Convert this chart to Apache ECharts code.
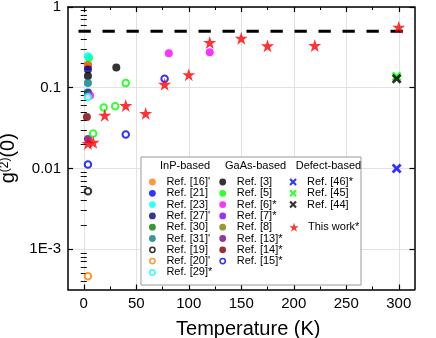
<!DOCTYPE html>
<html><head><meta charset="utf-8">
<script src="https://cdn.jsdelivr.net/npm/echarts@6/dist/echarts.min.js"></script>
<style>html,body{margin:0;padding:0;background:#fff}#c{width:436px;height:338px}</style>
</head><body><div id="c"></div>
<script>
// ---- ticks ----
const xTickValues = [0, 50, 100, 150, 200, 250, 300];
const xMinorTickValues = [25, 75, 125, 175, 225, 275];
const yTickValues = [0.001, 0.01, 0.1, 1];
const yTickLabels = ['1E-3', '0.01', '0.1', '1'];
const yMinorTickValues = [0.0004, 0.0005, 0.0006, 0.0007, 0.0008, 0.0009,
  0.002, 0.003, 0.004, 0.005, 0.006, 0.007, 0.008, 0.009,
  0.02, 0.03, 0.04, 0.05, 0.06, 0.07, 0.08, 0.09,
  0.2, 0.3, 0.4, 0.5, 0.6, 0.7, 0.8, 0.9];

// ---- data: [temperature (K), g2(0)] ----
// InP-based
const ref16 = [[4, 0.19]];
const ref21 = [[4, 0.087]];
const ref23 = [[4, 0.245]];
const ref27 = [[4, 0.168]];
const ref30 = [[4, 0.084]];
const ref31 = [[4, 0.114]];
const ref19 = [[4, 0.0052]];
const ref20 = [[4, 0.00046]];
const ref29 = [[4, 0.077]];
// GaAs-based
const ref3 = [[4, 0.14], [31, 0.178]];
const ref5 = [[5, 0.235]];
const ref5open = [[9, 0.027], [19, 0.057], [30, 0.059], [40, 0.114]];
const ref6 = [[6, 0.08], [81, 0.268], [120, 0.276]];
const ref7 = [[4, 0.186]];
const ref8 = [[4, 0.192]];
const ref13 = [[4, 0.0232]];
const ref14 = [[3, 0.0435]];
const ref15 = [[4, 0.0112], [40, 0.0263], [77, 0.129]];
// Defect-based
const ref46 = [[298, 0.01]];
const ref45 = [[298, 0.138]];
const ref44 = [[298, 0.129]];
// This work
const thisWork = [[4, 0.0204], [9, 0.0211], [20, 0.0455], [40, 0.06], [59, 0.048], [77, 0.11],
                  [100, 0.145], [120, 0.363], [150, 0.41], [175, 0.33], [220, 0.333], [300, 0.56]];
// dashed reference line
const dashX = [-5, 315];
const dashY = [0.5, 0.5];

const FONT = '"Liberation Sans", Arial, sans-serif';
const STAR = 'path://M10,0 L12.245,6.91 L19.511,6.91 L13.633,11.18 L15.878,18.09 L10,13.82 L4.122,18.09 L6.367,11.18 L0.489,6.91 L7.755,6.91 Z';
const XMARK = 'path://M0,2 L2,0 L5,3 L8,0 L10,2 L7,5 L10,8 L8,10 L5,7 L2,10 L0,8 L3,5 Z';
const RING = 'path://M0,5 A5,5 0 1,0 10,5 A5,5 0 1,0 0,5 Z M2.3,5 A2.7,2.7 0 1,1 7.7,5 A2.7,2.7 0 1,1 2.3,5 Z';

function sc(name, data, color, kind) {
  const s = { type: 'scatter', name: name, data: data, silent: true, animation: false };
  if (kind === 'fill') { s.symbol = 'circle'; s.symbolSize = 8; s.itemStyle = { color: color }; }
  else if (kind === 'open') { s.symbol = 'emptyCircle'; s.symbolSize = 6.5; s.itemStyle = { color: color, borderColor: color, borderWidth: 1.8 }; s.z = 3; }
  else if (kind === 'x') { s.symbol = XMARK; s.symbolSize = 10; s.itemStyle = { color: color }; s.z = 3; }
  else if (kind === 'star') { s.symbol = STAR; s.symbolSize = 13; s.itemStyle = { color: color }; s.z = 4; }
  return s;
}

const series = [
  {
    type: 'line', data: dashX.map((x, i) => [x, dashY[i]]), symbol: 'none', silent: true, animation: false,
    lineStyle: { color: '#000', width: 3, type: [12.3, 11.7], cap: 'butt' }, z: 1
  },
  sc("Ref. [8]", ref8, '#808000', 'fill'),
  sc("Ref. [7]*", ref7, '#8000ff', 'fill'),
  sc("Ref. [16]'", ref16, '#ff8000', 'fill'),
  sc("Ref. [5]", ref5, '#00ff00', 'fill'),
  sc("Ref. [23]", ref23, '#00ffff', 'fill'),
  sc("Ref. [27]'", ref27, '#000080', 'fill'),
  sc("Ref. [3]", ref3, '#000000', 'fill'),
  sc("Ref. [31]'", ref31, '#008080', 'fill'),
  sc("Ref. [21]", ref21, '#0000ff', 'fill'),
  sc("Ref. [30]", ref30, '#008000', 'fill'),
  sc("Ref. [6]*", ref6, '#ff00ff', 'fill'),
  sc("Ref. [14]*", ref14, '#800000', 'fill'),
  sc("Ref. [13]*", ref13, '#800080', 'fill'),
  sc("Ref. [29]*", ref29, '#00ffff', 'open'),
  sc("Ref. [19]", ref19, '#000000', 'open'),
  sc("Ref. [20]'", ref20, '#ff8000', 'open'),
  sc("Ref. [15]*", ref15, '#0000ff', 'open'),
  sc("Ref. [5] open", ref5open, '#00ff00', 'open'),
  sc("Ref. [46]*", ref46, '#0000ff', 'x'),
  sc("Ref. [45]", ref45, '#00ff00', 'x'),
  sc("Ref. [44]", ref44, '#000000', 'x'),
  sc("This work*", thisWork, '#ff0000', 'star')
];

const inpNames = ["Ref. [16]'", "Ref. [21]", "Ref. [23]", "Ref. [27]'", "Ref. [30]", "Ref. [31]'", "Ref. [19]", "Ref. [20]'", "Ref. [29]*"];
const gaasNames = ["Ref. [3]", "Ref. [5]", "Ref. [6]*", "Ref. [7]*", "Ref. [8]", "Ref. [13]*", "Ref. [14]*", "Ref. [15]*"];
const defectNames = ["Ref. [46]*", "Ref. [45]", "Ref. [44]"];
const workNames = ["This work*"];
const openNames = ["Ref. [19]", "Ref. [20]'", "Ref. [29]*", "Ref. [15]*"];

function lg(names, left, top, iconH) {
  return {
    data: names.map(n => openNames.indexOf(n) >= 0 ? { name: n, icon: RING, itemStyle: { borderWidth: 0 } } : n),
    orient: 'vertical', left: left, top: top, padding: 0, itemGap: 0.3,
    itemWidth: 18, itemHeight: iconH, selectedMode: false, z: 6,
    textStyle: { fontSize: 11, lineHeight: 11, fontFamily: FONT, color: '#000' }
  };
}

function yFmt(v) {
  for (let i = 0; i < yTickValues.length; i++) {
    if (Math.abs(v - yTickValues[i]) / yTickValues[i] < 1e-6) return yTickLabels[i];
  }
  return '';
}

const LINE = { show: true, onZero: false, lineStyle: { color: '#000', width: 1.5 } };
const NOLINE = { show: false };
function majorTick(vals) { return { show: true, inside: true, length: 5, customValues: vals, lineStyle: { color: '#000', width: 1.2 } }; }
function minorTick(vals) { return { show: true, inside: true, length: 3, customValues: vals, lineStyle: { color: '#000', width: 1 } }; }
const XMIN = -15, XMAX = 315, YMIN = Math.pow(10, -3.5), YMAX = 1;

const option = {
  animation: false,
  backgroundColor: '#fff',
  grid: { left: 68, right: 21.5, top: 7, bottom: 48.5, containLabel: false, outerBoundsMode: 'none' },
  xAxis: [
    {
      type: 'value', min: XMIN, max: XMAX, position: 'bottom', axisLine: LINE, axisTick: majorTick(xTickValues),
      axisLabel: { customValues: xTickValues, fontSize: 15, fontFamily: FONT, color: '#000', margin: 7 },
      splitLine: { show: true, lineStyle: { color: '#e2e2e2', width: 1 } },
      name: 'Temperature (K)', nameLocation: 'middle', nameGap: 30,
      nameTextStyle: { fontSize: 20, fontFamily: FONT, color: '#000', padding: [0, 0, 0, 14] }
    },
    { type: 'value', min: XMIN, max: XMAX, position: 'top', axisLine: LINE, axisTick: majorTick(xTickValues), axisLabel: { show: false }, splitLine: { show: false } },
    { type: 'value', min: XMIN, max: XMAX, position: 'bottom', axisLine: NOLINE, axisTick: minorTick(xMinorTickValues), axisLabel: { show: false }, splitLine: { show: false } },
    { type: 'value', min: XMIN, max: XMAX, position: 'top', axisLine: NOLINE, axisTick: minorTick(xMinorTickValues), axisLabel: { show: false }, splitLine: { show: false } }
  ],
  yAxis: [
    {
      type: 'log', logBase: 10, min: YMIN, max: YMAX, position: 'left', axisLine: LINE, axisTick: majorTick(yTickValues),
      axisLabel: { customValues: yTickValues, formatter: yFmt, fontSize: 15, fontFamily: FONT, color: '#000', margin: 7 },
      splitLine: { show: true, lineStyle: { color: '#e2e2e2', width: 1 } },
      name: 'g{s|(2)}(0)', nameLocation: 'middle', nameGap: 43,
      nameTextStyle: { fontSize: 20, fontFamily: FONT, color: '#000', padding: [0, 20, 0, 0],
        rich: { s: { fontSize: 12, fontFamily: FONT, color: '#000', verticalAlign: 'top', lineHeight: 20 } } }
    },
    { type: 'log', logBase: 10, min: YMIN, max: YMAX, position: 'right', axisLine: LINE, axisTick: majorTick(yTickValues), axisLabel: { show: false }, splitLine: { show: false } },
    { type: 'log', logBase: 10, min: YMIN, max: YMAX, position: 'left', axisLine: NOLINE, axisTick: minorTick(yMinorTickValues), axisLabel: { show: false }, splitLine: { show: false } },
    { type: 'log', logBase: 10, min: YMIN, max: YMAX, position: 'right', axisLine: NOLINE, axisTick: minorTick(yMinorTickValues), axisLabel: { show: false }, splitLine: { show: false } }
  ],
  legend: [
    lg(inpNames, 149, 176.5, 6.8),
    lg(gaasNames, 219.3, 176.5, 6.8),
    lg(defectNames, 289.3, 176.5, 7.5),
    lg(workNames, 289.3, 221.7, 9)
  ],
  graphic: [
    { type: 'rect', z: 3, zlevel: 0, shape: { x: 141, y: 157, width: 220, height: 128 },
      style: { fill: '#fff', stroke: '#9a9a9a', lineWidth: 1 }, silent: true },
    { type: 'text', z: 6, x: 160, y: 166, style: { text: 'InP-based', font: '11px ' + FONT, fill: '#000', verticalAlign: 'middle' }, silent: true },
    { type: 'text', z: 6, x: 225, y: 166, style: { text: 'GaAs-based', font: '11px ' + FONT, fill: '#000', verticalAlign: 'middle' }, silent: true },
    { type: 'text', z: 6, x: 295.7, y: 166, style: { text: 'Defect-based', font: '11px ' + FONT, fill: '#000', verticalAlign: 'middle' }, silent: true }
  ],
  series: series
};

const chart = echarts.init(document.getElementById('c'), null, { renderer: 'canvas' });
chart.setOption(option);
</script>
</body></html>
